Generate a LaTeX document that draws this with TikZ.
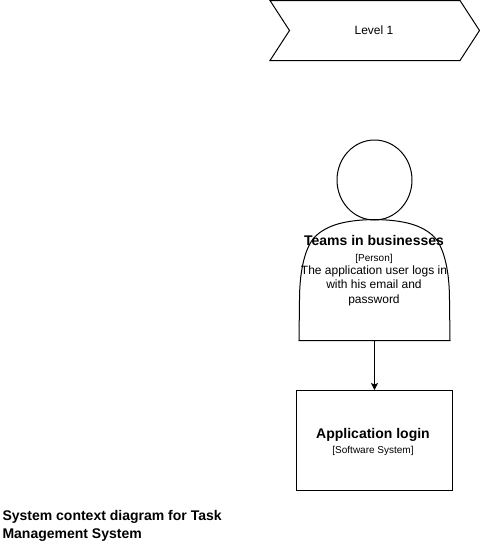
\documentclass[tikz,border=0pt]{standalone}
\usepackage{fontspec}
\setmainfont{Liberation Sans}
\usetikzlibrary{arrows.meta,shapes.geometric}
\tikzset{
    sysbox/.style={draw,minimum width=156pt,minimum height=100pt,inner sep=0pt},
    bodybox/.style={minimum width=150pt,minimum height=120pt,inner sep=0pt},
    headshape/.style={draw,ellipse,minimum width=75pt,minimum height=80pt,inner sep=0pt},
    linktip/.style={-{Stealth[length=7pt,width=7pt,inset=1.5pt]}},
    titlefont/.style={font=\bfseries\fontsize{14}{18}\selectfont},
    smallfont/.style={font=\fontsize{12}{14.5}\selectfont}
}

\begin{document}
\begin{tikzpicture}[x=1pt,y=-1pt,line width=1pt]
    \useasboundingbox (0,0) rectangle (480,542);
    % level tag
    \draw (270,0.5) -- (460,0.5) -- (479.5,30.5) -- (460,60.5) -- (270,60.5) -- (289.5,30.5) -- cycle;
    \node[smallfont] (level) at (374,30) {Level 1};
    % person
    \node[headshape] (head) at (374.5,180) {};
    \node[bodybox] (person) at (374.5,280) {};
    \draw (person.south west) -- (person.south east) -- (449.5,300)
        .. controls (449.5,268) and (443,246) .. (434,236.7)
        .. controls (422,225) and (404,220) .. (person.north)
        .. controls (345,220) and (327,225) .. (315,236.7)
        .. controls (306,246) and (299.5,268) .. (299.5,300) -- cycle;
    \node[align=center,smallfont] (persontext) at (374,270.5) {%
        {\bfseries\fontsize{14}{17}\selectfont Teams in businesses}\\[2pt]
        {\fontsize{10}{13}\selectfont [Person]}\\[-2pt]
        The application user logs in\\
        with his email and\\
        password};
    % system
    \node[sysbox] (login) at (374.5,440.5) {};
    \node[align=center] (logintext) at (373,442) {%
        {\bfseries\fontsize{14}{17}\selectfont Application login}\\[3.5pt]
        {\fontsize{10}{13}\selectfont [Software System]}};
    \draw[linktip] (person.south) -- (login.north);
    % caption
    \node[titlefont,align=left,anchor=north west,inner sep=0pt] (caption) at (2,510) {System context diagram for Task\\Management System};
\end{tikzpicture}
\end{document}
